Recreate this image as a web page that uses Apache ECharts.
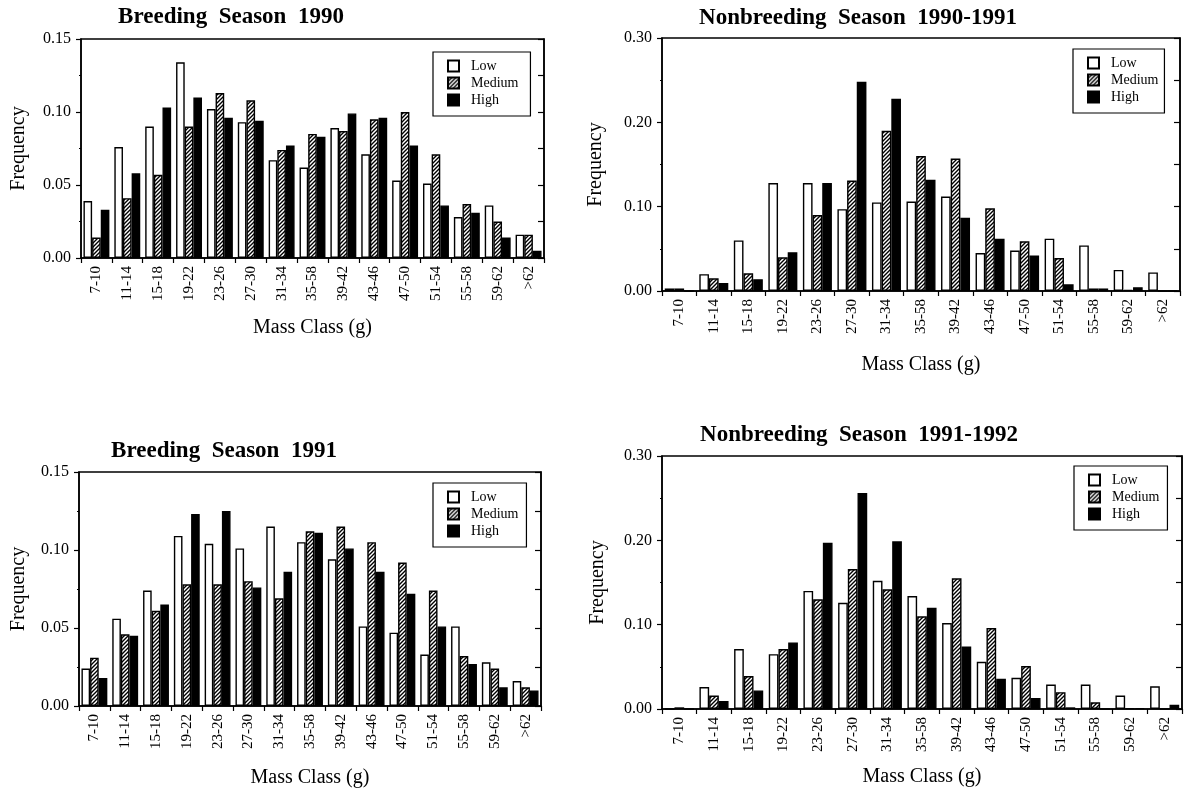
<!DOCTYPE html>
<html>
<head>
<meta charset="utf-8">
<script src="https://cdn.jsdelivr.net/npm/echarts@6/dist/echarts.min.js"></script>
<style>
  html, body { margin: 0; padding: 0; background: #fff; }
  #chart { width: 1187px; height: 789px; }
</style>
</head>
<body>
<div id="chart"></div>
<script>
// Mass classes (g) shared by all four panels
const massClasses = ['7-10', '11-14', '15-18', '19-22', '23-26', '27-30', '31-34', '35-58',
  '39-42', '43-46', '47-50', '51-54', '55-58', '59-62', '>62'];
const densityNames = ['Low', 'Medium', 'High'];

// Breeding Season 1990
const breeding1990Low    = [0.039, 0.076, 0.090, 0.134, 0.102, 0.093, 0.067, 0.062, 0.089, 0.071, 0.053, 0.051, 0.028, 0.036, 0.016];
const breeding1990Medium = [0.014, 0.041, 0.057, 0.090, 0.113, 0.108, 0.074, 0.085, 0.087, 0.095, 0.100, 0.071, 0.037, 0.025, 0.016];
const breeding1990High   = [0.033, 0.058, 0.103, 0.110, 0.096, 0.094, 0.077, 0.083, 0.099, 0.096, 0.077, 0.036, 0.031, 0.014, 0.005];

// Nonbreeding Season 1990-1991
const nonbreeding9091Low    = [0.003, 0.020, 0.060, 0.128, 0.128, 0.097, 0.105, 0.106, 0.112, 0.045, 0.048, 0.062, 0.054, 0.025, 0.022];
const nonbreeding9091Medium = [0.003, 0.015, 0.021, 0.040, 0.090, 0.131, 0.190, 0.160, 0.157, 0.098, 0.059, 0.039, 0.003, 0.0015, 0];
const nonbreeding9091High   = [0, 0.0095, 0.014, 0.046, 0.128, 0.248, 0.228, 0.132, 0.087, 0.062, 0.042, 0.008, 0.003, 0.0045, 0];

// Breeding Season 1991
const breeding1991Low    = [0.024, 0.056, 0.074, 0.109, 0.104, 0.101, 0.115, 0.105, 0.094, 0.051, 0.047, 0.033, 0.051, 0.028, 0.016];
const breeding1991Medium = [0.031, 0.046, 0.061, 0.078, 0.078, 0.080, 0.069, 0.112, 0.115, 0.105, 0.092, 0.074, 0.032, 0.024, 0.012];
const breeding1991High   = [0.018, 0.045, 0.065, 0.123, 0.125, 0.076, 0.086, 0.111, 0.101, 0.086, 0.072, 0.051, 0.027, 0.012, 0.010];

// Nonbreeding Season 1991-1992
const nonbreeding9192Low    = [0, 0.026, 0.071, 0.065, 0.140, 0.126, 0.152, 0.134, 0.102, 0.056, 0.037, 0.029, 0.029, 0.016, 0.027];
const nonbreeding9192Medium = [0.002, 0.016, 0.039, 0.071, 0.130, 0.166, 0.142, 0.110, 0.155, 0.096, 0.051, 0.020, 0.008, 0.001, 0];
const nonbreeding9192High   = [0, 0.0095, 0.022, 0.079, 0.197, 0.256, 0.199, 0.120, 0.074, 0.036, 0.013, 0.002, 0, 0.001, 0.005];

const SERIF = '"Liberation Serif", "Times New Roman", serif';

// Diagonal "////" hatch used for the Medium bars
function makeHatch() {
  const c = document.createElement('canvas');
  c.width = 4; c.height = 4;
  const g = c.getContext('2d');
  g.fillStyle = '#fff';
  g.fillRect(0, 0, 4, 4);
  g.strokeStyle = '#000';
  g.lineWidth = 1.4;
  g.beginPath();
  g.moveTo(-1, 5); g.lineTo(5, -1);
  g.moveTo(-1, 1); g.lineTo(1, -1);
  g.moveTo(3, 5); g.lineTo(5, 3);
  g.stroke();
  return c;
}
const hatch = makeHatch();
const fills = ['#fff', { image: hatch, repeat: 'repeat' }, '#000'];

const panels = [
  {
    title: 'Breeding  Season  1990',
    data: [breeding1990Low, breeding1990Medium, breeding1990High],
    max: 0.15, interval: 0.05, rightInterval: 0.025,
    grid: { left: 81, top: 39, width: 463, height: 219 },
    titlePos: [231, 17],
    legendPos: [433, 52], legendPadRight: 12,
    yNameGap: 52, xNameGap: 60
  },
  {
    title: 'Nonbreeding  Season  1990-1991',
    data: [nonbreeding9091Low, nonbreeding9091Medium, nonbreeding9091High],
    max: 0.30, interval: 0.10, rightInterval: 0.05,
    grid: { left: 662, top: 38, width: 518, height: 253 },
    titlePos: [858, 18],
    legendPos: [1073, 49], legendPadRight: 6,
    yNameGap: 56, xNameGap: 64
  },
  {
    title: 'Breeding  Season  1991',
    data: [breeding1991Low, breeding1991Medium, breeding1991High],
    max: 0.15, interval: 0.05, rightInterval: 0.025,
    grid: { left: 79, top: 472, width: 462, height: 237 },
    titlePos: [224, 451],
    legendPos: [433, 483], legendPadRight: 8,
    yNameGap: 50, xNameGap: 62
  },
  {
    title: 'Nonbreeding  Season  1991-1992',
    data: [nonbreeding9192Low, nonbreeding9192Medium, nonbreeding9192High],
    max: 0.30, interval: 0.10, rightInterval: 0.05,
    grid: { left: 662, top: 456, width: 520, height: 253 },
    titlePos: [859, 435],
    legendPos: [1074, 466], legendPadRight: 8,
    yNameGap: 54, xNameGap: 58
  }
];

const option = {
  backgroundColor: '#fff',
  animation: false,
  grid: [], xAxis: [], yAxis: [], series: [], legend: [], graphic: []
};

panels.forEach((p, i) => {
  option.grid.push(Object.assign({
    show: true, borderColor: '#000', borderWidth: 1.5, backgroundColor: 'transparent'
  }, p.grid));

  option.xAxis.push({
    type: 'category', gridIndex: i, data: massClasses,
    name: 'Mass Class (g)', nameLocation: 'middle', nameGap: p.xNameGap,
    nameTextStyle: { fontFamily: SERIF, fontSize: 20, color: '#000' },
    axisLine: { lineStyle: { color: '#000', width: 1.5 } },
    axisTick: { show: true, length: 5, lineStyle: { color: '#000', width: 1.2 } },
    axisLabel: { rotate: 90, interval: 0, margin: 8, fontFamily: SERIF, fontSize: 15, color: '#000' },
    splitLine: { show: false }
  });

  // left value axis with labels
  option.yAxis.push({
    type: 'value', gridIndex: i, min: 0, max: p.max, interval: p.interval,
    name: 'Frequency', nameLocation: 'middle', nameGap: p.yNameGap, nameRotate: 90,
    nameTextStyle: { fontFamily: SERIF, fontSize: 20, color: '#000' },
    axisLine: { show: true, lineStyle: { color: '#000', width: 1.5 } },
    axisTick: { show: true, length: 5, lineStyle: { color: '#000', width: 1.2 } },
    minorTick: { show: true, splitNumber: 2, length: 2, lineStyle: { color: '#000' } },
    axisLabel: {
      margin: 10, fontFamily: SERIF, fontSize: 16, color: '#000',
      formatter: v => v.toFixed(2)
    },
    splitLine: { show: false }
  });

  // right frame axis with inward ticks
  option.yAxis.push({
    type: 'value', gridIndex: i, position: 'right', min: 0, max: p.max, interval: p.rightInterval,
    axisLine: { show: true, lineStyle: { color: '#000', width: 1.5 } },
    axisTick: { show: true, inside: true, length: 6, lineStyle: { color: '#000', width: 1.2 } },
    axisLabel: { show: false },
    splitLine: { show: false }
  });

  densityNames.forEach((name, k) => {
    option.series.push({
      type: 'bar', name: name,
      xAxisIndex: i, yAxisIndex: i * 2,
      data: p.data[k],
      barGap: '0%', barCategoryGap: '16%',
      itemStyle: { color: fills[k], borderColor: '#000', borderWidth: 1.4 },
      emphasis: { disabled: true }
    });
  });

  option.legend.push({
    data: densityNames,
    orient: 'vertical',
    left: p.legendPos[0], top: p.legendPos[1],
    itemWidth: 11, itemHeight: 11, itemGap: 3,
    padding: [7, p.legendPadRight, 9, 14],
    borderColor: '#000', borderWidth: 1.2, backgroundColor: '#fff',
    icon: 'rect',
    selectedMode: false,
    formatter: n => '  ' + n,
    textStyle: { fontFamily: SERIF, fontSize: 14, color: '#000' }
  });

  option.graphic.push({
    type: 'text', x: p.titlePos[0], y: p.titlePos[1],
    style: {
      text: p.title,
      font: 'bold 23px ' + SERIF,
      fill: '#000',
      align: 'center', verticalAlign: 'middle',
      textAlign: 'center', textVerticalAlign: 'middle'
    }
  });
});

const chart = echarts.init(document.getElementById('chart'), null, { renderer: 'canvas' });
chart.setOption(option);
</script>
</body>
</html>
